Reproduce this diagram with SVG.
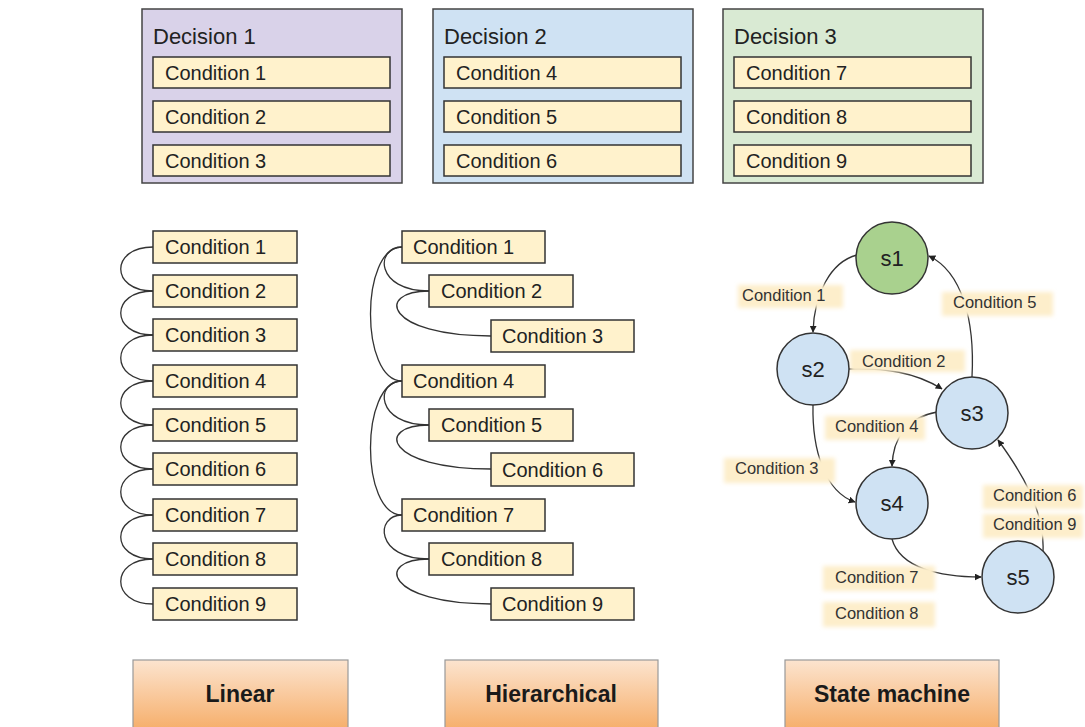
<svg xmlns="http://www.w3.org/2000/svg" width="1085" height="727" viewBox="0 0 1085 727">
  <style>
    .dec { stroke: #444; stroke-width: 1.5; }
    .cond { fill: #fff2cc; stroke: #333; stroke-width: 1.5; }
    .ct { font-family: "Liberation Sans", Arial, sans-serif; font-size: 20px; fill: #222; }
    .title { font-family: "Liberation Sans", Arial, sans-serif; font-size: 22px; fill: #222; }
    .lnk { fill: none; stroke: #333; stroke-width: 1.3; }
    .edge { fill: none; stroke: #333; stroke-width: 1.3; marker-end: url(#arr); }
    .state { stroke: #333; stroke-width: 1.5; }
    .st { font-family: "Liberation Sans", Arial, sans-serif; font-size: 22px; fill: #222; text-anchor: middle; }
    .lbg { fill: #fdeecb; filter: url(#soft); }
    .lt { font-family: "Liberation Sans", Arial, sans-serif; font-size: 16.5px; fill: #333; }
    .cat { fill: url(#orange); stroke: #999; stroke-width: 1.2; }
    .catt { font-family: "Liberation Sans", Arial, sans-serif; font-size: 23px; font-weight: bold; fill: #1a1a1a; text-anchor: middle; }
  </style>
  <defs>
    <marker id="arr" viewBox="0 0 10 10" refX="9" refY="5" markerWidth="7" markerHeight="7" orient="auto" markerUnits="userSpaceOnUse">
      <path d="M0,0 L10,5 L0,10 z" fill="#222"/>
    </marker>
    <linearGradient id="orange" x1="0" y1="0" x2="0" y2="1">
      <stop offset="0" stop-color="#fce4cf"/>
      <stop offset="1" stop-color="#f6ae6a"/>
    </linearGradient>
    <filter id="soft" x="-10%" y="-40%" width="120%" height="180%">
      <feGaussianBlur stdDeviation="2"/>
    </filter>
  </defs>

  <rect width="1085" height="727" fill="#ffffff"/>

  <!-- Decision tables -->
  <g id="decision1">
    <rect class="dec" x="142" y="9" width="260" height="174" fill="#d9d2e9"/>
    <text class="title" x="153" y="44">Decision 1</text>
    <rect class="cond" x="153" y="57" width="237" height="31"/>
    <text class="ct" x="165" y="80">Condition 1</text>
    <rect class="cond" x="153" y="101" width="237" height="31"/>
    <text class="ct" x="165" y="124">Condition 2</text>
    <rect class="cond" x="153" y="145" width="237" height="31"/>
    <text class="ct" x="165" y="168">Condition 3</text>
  </g>
  <g id="decision2">
    <rect class="dec" x="433" y="9" width="260" height="174" fill="#cfe2f3"/>
    <text class="title" x="444" y="44">Decision 2</text>
    <rect class="cond" x="444" y="57" width="237" height="31"/>
    <text class="ct" x="456" y="80">Condition 4</text>
    <rect class="cond" x="444" y="101" width="237" height="31"/>
    <text class="ct" x="456" y="124">Condition 5</text>
    <rect class="cond" x="444" y="145" width="237" height="31"/>
    <text class="ct" x="456" y="168">Condition 6</text>
  </g>
  <g id="decision3">
    <rect class="dec" x="723" y="9" width="260" height="174" fill="#d9ead3"/>
    <text class="title" x="734" y="44">Decision 3</text>
    <rect class="cond" x="734" y="57" width="237" height="31"/>
    <text class="ct" x="746" y="80">Condition 7</text>
    <rect class="cond" x="734" y="101" width="237" height="31"/>
    <text class="ct" x="746" y="124">Condition 8</text>
    <rect class="cond" x="734" y="145" width="237" height="31"/>
    <text class="ct" x="746" y="168">Condition 9</text>
  </g>

  <!-- Connectors -->
  <g id="connectors">
    <!-- linear chain -->
    <path class="lnk" d="M153,247 C110,247 110,291 153,291"/>
    <path class="lnk" d="M153,291 C110,291 110,335 153,335"/>
    <path class="lnk" d="M153,335 C110,335 110,381 153,381"/>
    <path class="lnk" d="M153,381 C110,381 110,425 153,425"/>
    <path class="lnk" d="M153,425 C110,425 110,469 153,469"/>
    <path class="lnk" d="M153,469 C110,469 110,515 153,515"/>
    <path class="lnk" d="M153,515 C110,515 110,559 153,559"/>
    <path class="lnk" d="M153,559 C110,559 110,604 153,604"/>
    <!-- hierarchical tree -->
    <path class="lnk" d="M402,247 C360,247 360,381 402,381"/>
    <path class="lnk" d="M402,381 C360,381 360,515 402,515"/>
    <path class="lnk" d="M402,247 C375,247 375,291 429,291"/>
    <path class="lnk" d="M402,381 C375,381 375,425 429,425"/>
    <path class="lnk" d="M402,515 C375,515 375,559 429,559"/>
    <path class="lnk" d="M429,291 C375,291 385,336 491,336"/>
    <path class="lnk" d="M429,425 C375,425 385,469 491,469"/>
    <path class="lnk" d="M429,559 C375,559 385,604 491,604"/>
    <!-- state transitions -->
    <path class="edge" d="M857,255 C830,262 814,295 813,332"/>
    <path class="edge" d="M972,377 C975,320 962,272 929,256"/>
    <path class="edge" d="M849,369 C885,368 915,372 942,389"/>
    <path class="edge" d="M937,412 C905,418 893,440 892,466"/>
    <path class="edge" d="M813,405 C812,450 825,492 855,502"/>
    <path class="edge" d="M892,539 C900,568 940,577 981,577"/>
    <path class="edge" d="M1043,551 C1045,510 1020,470 998,440"/>
  </g>

  <!-- Linear column -->
  <g id="lin1"><rect class="cond" x="153" y="231" width="144" height="32"/><text class="ct" x="165" y="254">Condition 1</text></g>
  <g id="lin2"><rect class="cond" x="153" y="275" width="144" height="32"/><text class="ct" x="165" y="298">Condition 2</text></g>
  <g id="lin3"><rect class="cond" x="153" y="319" width="144" height="32"/><text class="ct" x="165" y="342">Condition 3</text></g>
  <g id="lin4"><rect class="cond" x="153" y="365" width="144" height="32"/><text class="ct" x="165" y="388">Condition 4</text></g>
  <g id="lin5"><rect class="cond" x="153" y="409" width="144" height="32"/><text class="ct" x="165" y="432">Condition 5</text></g>
  <g id="lin6"><rect class="cond" x="153" y="453" width="144" height="32"/><text class="ct" x="165" y="476">Condition 6</text></g>
  <g id="lin7"><rect class="cond" x="153" y="499" width="144" height="32"/><text class="ct" x="165" y="522">Condition 7</text></g>
  <g id="lin8"><rect class="cond" x="153" y="543" width="144" height="32"/><text class="ct" x="165" y="566">Condition 8</text></g>
  <g id="lin9"><rect class="cond" x="153" y="588" width="144" height="32"/><text class="ct" x="165" y="611">Condition 9</text></g>

  <!-- Hierarchical column -->
  <g id="hier1"><rect class="cond" x="402" y="231" width="143" height="32"/><text class="ct" x="413" y="254">Condition 1</text></g>
  <g id="hier2"><rect class="cond" x="429" y="275" width="144" height="32"/><text class="ct" x="441" y="298">Condition 2</text></g>
  <g id="hier3"><rect class="cond" x="491" y="320" width="143" height="32"/><text class="ct" x="502" y="343">Condition 3</text></g>
  <g id="hier4"><rect class="cond" x="402" y="365" width="143" height="32"/><text class="ct" x="413" y="388">Condition 4</text></g>
  <g id="hier5"><rect class="cond" x="429" y="409" width="144" height="32"/><text class="ct" x="441" y="432">Condition 5</text></g>
  <g id="hier6"><rect class="cond" x="491" y="453" width="143" height="33"/><text class="ct" x="502" y="477">Condition 6</text></g>
  <g id="hier7"><rect class="cond" x="402" y="499" width="143" height="32"/><text class="ct" x="413" y="522">Condition 7</text></g>
  <g id="hier8"><rect class="cond" x="429" y="543" width="144" height="32"/><text class="ct" x="441" y="566">Condition 8</text></g>
  <g id="hier9"><rect class="cond" x="491" y="588" width="143" height="32"/><text class="ct" x="502" y="611">Condition 9</text></g>

  <!-- Transition labels -->
  <g id="labels">
    <rect class="lbg" x="738" y="285" width="105" height="23"/><text class="lt" x="742" y="301">Condition 1</text>
    <rect class="lbg" x="942" y="292" width="111" height="24"/><text class="lt" x="953" y="308">Condition 5</text>
    <rect class="lbg" x="850" y="350" width="115" height="22"/><text class="lt" x="862" y="367">Condition 2</text>
    <rect class="lbg" x="825" y="416" width="100" height="24"/><text class="lt" x="835" y="432">Condition 4</text>
    <rect class="lbg" x="724" y="458" width="111" height="25"/><text class="lt" x="735" y="474">Condition 3</text>
    <rect class="lbg" x="983" y="485" width="100" height="24"/><text class="lt" x="993" y="501">Condition 6</text>
    <rect class="lbg" x="983" y="514" width="100" height="24"/><text class="lt" x="993" y="530">Condition 9</text>
    <rect class="lbg" x="823" y="566" width="112" height="25"/><text class="lt" x="835" y="583">Condition 7</text>
    <rect class="lbg" x="823" y="602" width="112" height="25"/><text class="lt" x="835" y="619">Condition 8</text>
  </g>

  <!-- States -->
  <g id="s1"><circle class="state" cx="892" cy="258" r="36" fill="#a9d18e"/><text class="st" x="892" y="266">s1</text></g>
  <g id="s2"><circle class="state" cx="813" cy="369" r="36" fill="#cfe2f3"/><text class="st" x="813" y="377">s2</text></g>
  <g id="s3"><circle class="state" cx="972" cy="413" r="36" fill="#cfe2f3"/><text class="st" x="972" y="421">s3</text></g>
  <g id="s4"><circle class="state" cx="892" cy="503" r="36" fill="#cfe2f3"/><text class="st" x="892" y="511">s4</text></g>
  <g id="s5"><circle class="state" cx="1018" cy="577" r="36" fill="#cfe2f3"/><text class="st" x="1018" y="585">s5</text></g>

  <!-- Category captions -->
  <g id="cat-linear"><rect class="cat" x="133" y="660" width="215" height="70"/><text class="catt" x="240" y="702">Linear</text></g>
  <g id="cat-hier"><rect class="cat" x="445" y="660" width="213" height="70"/><text class="catt" x="551" y="702">Hierarchical</text></g>
  <g id="cat-state"><rect class="cat" x="785" y="660" width="214" height="70"/><text class="catt" x="892" y="702">State machine</text></g>
</svg>
